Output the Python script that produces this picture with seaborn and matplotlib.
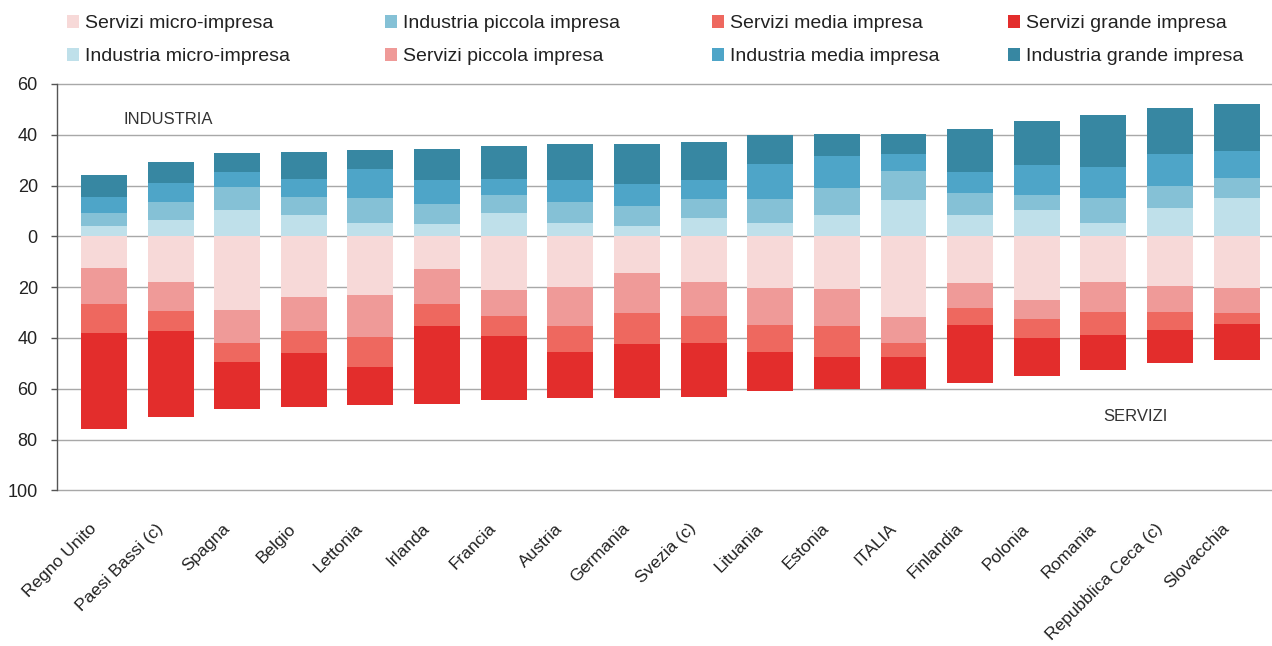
import numpy as np
import pandas as pd
import seaborn as sns
import matplotlib.pyplot as plt
from matplotlib.patches import Patch
from matplotlib.transforms import ScaledTranslation

paesi = ['Regno Unito', 'Paesi Bassi (c)', 'Spagna', 'Belgio', 'Lettonia', 'Irlanda',
         'Francia', 'Austria', 'Germania', 'Svezia (c)', 'Lituania', 'Estonia', 'ITALIA',
         'Finlandia', 'Polonia', 'Romania', 'Repubblica Ceca (c)', 'Slovacchia']

# industria (valori positivi, sopra lo zero)
ind_micro = [4.2, 6.4, 10.4, 8.4, 5.3, 4.9, 9.2, 5.3, 4.1, 7.2, 5.3, 8.4, 14.3, 8.4, 10.4, 5.3, 11.2, 15.1]
ind_piccola = [5.1, 7.2, 9.1, 7.1, 9.8, 7.9, 7.1, 8.3, 7.9, 7.5, 9.4, 10.7, 11.5, 8.7, 5.9, 9.8, 8.7, 7.9]
ind_media = [6.0, 7.5, 5.9, 7.1, 11.5, 9.4, 6.3, 8.6, 8.7, 7.5, 13.9, 12.6, 6.7, 8.3, 11.9, 12.3, 12.6, 10.7]
ind_grande = [8.9, 8.2, 7.5, 10.7, 7.5, 12.3, 13.1, 14.2, 15.7, 15.0, 11.4, 8.7, 7.9, 17.0, 17.3, 20.5, 18.2, 18.5]

# servizi (disegnati sotto lo zero)
ser_micro = [12.4, 18.0, 29.1, 23.9, 23.2, 12.9, 21.2, 20.0, 14.5, 18.0, 20.4, 20.8, 31.8, 18.4, 25.1, 18.0, 19.6, 20.4]
ser_piccola = [14.3, 11.5, 13.0, 13.5, 16.5, 13.8, 10.2, 15.4, 15.8, 13.4, 14.6, 14.6, 10.3, 9.9, 7.5, 11.9, 10.3, 9.9]
ser_media = [11.5, 7.9, 7.5, 8.7, 11.9, 8.7, 7.9, 10.3, 12.2, 10.7, 10.7, 12.2, 5.5, 6.7, 7.5, 9.1, 7.1, 4.3]
ser_grande = [37.8, 33.8, 18.2, 20.9, 15.0, 30.7, 25.3, 18.1, 21.3, 21.3, 15.0, 12.7, 12.7, 22.9, 15.0, 13.8, 13.0, 14.0]

col_ind = ['#bfe0ea', '#85c1d6', '#4ea5c8', '#3787a2']
col_ser = ['#f7d9d8', '#ef9a98', '#ee685f', '#e32d2c']
lab_ind = ['Industria micro-impresa', 'Industria piccola impresa', 'Industria media impresa', 'Industria grande impresa']
lab_ser = ['Servizi micro-impresa', 'Servizi piccola impresa', 'Servizi media impresa', 'Servizi grande impresa']

sns.set_style('white')
plt.rcParams['font.family'] = ['Liberation Sans', 'DejaVu Sans']

fig = plt.figure(figsize=(12.72, 6.46), dpi=100)
ax = fig.add_axes([0.045, 0.241, 0.955, 0.629])

yt = [60, 40, 20, 0, -20, -40, -60, -80, -100]
for v in yt:
    ax.axhline(v, color='#a8a8a8', lw=1, zorder=0, clip_on=False)

# barre cumulate: prima la somma piu grande, poi quelle piu piccole sopra
cum_ind = np.cumsum([ind_micro, ind_piccola, ind_media, ind_grande], axis=0)
cum_ser = -np.cumsum([ser_micro, ser_piccola, ser_media, ser_grande], axis=0)

for i in range(3, -1, -1):
    sns.barplot(x=paesi, y=cum_ind[i], color=col_ind[i], saturation=1, width=0.69,
                linewidth=0, ax=ax, zorder=2)
    sns.barplot(x=paesi, y=cum_ser[i], color=col_ser[i], saturation=1, width=0.69,
                linewidth=0, ax=ax, zorder=2)

ax.set_ylim(-100, 60)
ax.set_xlim(-0.7, len(paesi) - 0.47)
ax.set_yticks(yt)
ax.set_yticklabels([str(abs(v)) for v in yt], fontsize=13, color='#222222')
ax.tick_params(axis='y', length=4, width=1, color='#555555', left=True, pad=10)
ax.tick_params(axis='x', length=0, pad=22)
ax.set_xticks(range(len(paesi)))
ax.set_xticklabels(paesi, rotation=45, ha='right', rotation_mode='anchor', fontsize=12.5,
                   color='#222222')
off = ScaledTranslation(-11 / 72, 0, fig.dpi_scale_trans)
for lab in ax.get_xticklabels():
    lab.set_transform(lab.get_transform() + off)

for s in ['top', 'right', 'bottom']:
    ax.spines[s].set_visible(False)
ax.spines['left'].set_color('#555555')
ax.spines['left'].set_linewidth(1)
ax.set_xlabel('')
ax.set_ylabel('')

ax.text(0.3, 46, 'INDUSTRIA', fontsize=12, color='#333333', va='center')
ax.text(15.0, -71, 'SERVIZI', fontsize=12, color='#333333', va='center')

# legenda su 4 colonne
colonne = [
    [(lab_ser[0], col_ser[0]), (lab_ind[0], col_ind[0])],
    [(lab_ind[1], col_ind[1]), (lab_ser[1], col_ser[1])],
    [(lab_ser[2], col_ser[2]), (lab_ind[2], col_ind[2])],
    [(lab_ser[3], col_ser[3]), (lab_ind[3], col_ind[3])],
]
x_col = [59, 377, 704, 1000]
for xc, voci in zip(x_col, colonne):
    handles = [Patch(facecolor=c, edgecolor='none', label=l) for l, c in voci]
    fig.legend(handles=handles, loc='upper left', bbox_to_anchor=(xc / 1272, 1 - 7 / 646),
               frameon=False, fontsize=14, handlelength=0.65, handleheight=0.65,
               handletextpad=0.3, labelspacing=0.82, borderaxespad=0, labelcolor='#222222')

fig.savefig('out.png', dpi=100)
